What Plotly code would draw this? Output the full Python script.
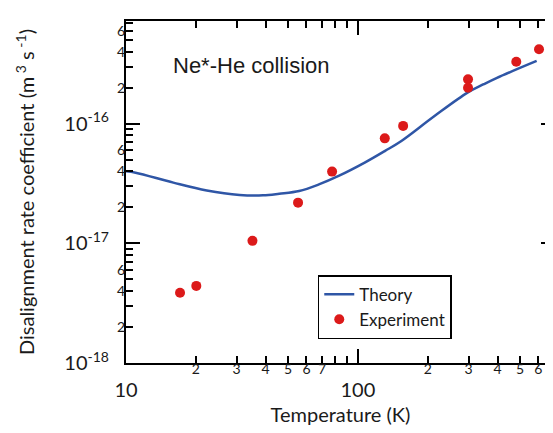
import plotly.graph_objects as go

# ---- data ----
theory_T = [10, 11, 16, 22.3, 30.9, 39, 45.8, 55.8, 67.9, 82.6, 107, 131, 154, 214, 297, 349, 398, 590]
theory_k = [4.0e-17, 3.9e-17, 3.22e-17, 2.77e-17, 2.54e-17, 2.52e-17, 2.60e-17, 2.74e-17, 3.11e-17,
            3.66e-17, 4.73e-17, 5.93e-17, 7.18e-17, 1.16e-16, 1.82e-16, 2.14e-16, 2.42e-16, 3.35e-16]

exp_T = [17.1, 20.1, 35.1, 55.2, 77.4, 130.6, 156.7, 298.5, 298.5, 482, 604]
exp_k = [3.87e-18, 4.41e-18, 1.05e-17, 2.19e-17, 3.98e-17, 7.55e-17, 9.6e-17, 2.35e-16, 2.0e-16, 3.3e-16, 4.19e-16]

x_major_vals = [10, 100]
x_major_text = ["10", "100"]
x_minor_vals = [20, 30, 40, 50, 60, 70, 80, 90, 200, 300, 400, 500, 600, 700]
x_minor_text = ["2", "3", "4", "5", "6", "7", "", "", "2", "3", "4", "5", "6", "7"]

y_major_vals = [1e-18, 1e-17, 1e-16]
y_major_text = ["10<sup>-18</sup>", "10<sup>-17</sup>", "10<sup>-16</sup>"]
y_minor_vals = [m * d for d in (1e-18, 1e-17, 1e-16) for m in range(2, 10) if m * d < 7.2e-16]
y_minor_text = [str(m) if m in (2, 4, 6) else "" for d in (1e-18, 1e-17, 1e-16)
                for m in range(2, 10) if m * d < 7.2e-16]

FONT = "Lato"
x_range = [1, 2.85]
y_range = [-18, -15.141]

fig = go.Figure()
fig.add_trace(go.Scatter(x=theory_T, y=theory_k, mode="lines", name="Theory",
                         line=dict(color="#2f56a6", width=2.5, shape="spline")))
fig.add_trace(go.Scatter(x=exp_T, y=exp_k, mode="markers", name="Experiment",
                         marker=dict(color="#dc1a1a", size=10)))
# invisible carrier so the overlaid minor-tick axes are drawn
fig.add_trace(go.Scatter(x=[exp_T[0]], y=[exp_k[0]], xaxis="x2", yaxis="y2", mode="markers",
                         marker=dict(opacity=0), showlegend=False, hoverinfo="skip"))

major_ticks = dict(ticks="inside", ticklen=14, tickwidth=2, tickcolor="black",
                   showline=True, linewidth=2, linecolor="black", mirror="ticks",
                   showgrid=False, zeroline=False)
minor_ticks = dict(ticks="inside", ticklen=7, tickwidth=2, tickcolor="black",
                   showline=False, mirror="ticks", showgrid=False, zeroline=False)

fig.update_layout(
    width=553, height=433,
    margin=dict(l=118, r=3, t=13, b=78),
    paper_bgcolor="white", plot_bgcolor="white",
    font=dict(family=FONT, color="#1a1a1a"),
    xaxis=dict(type="log", range=x_range, tickvals=x_major_vals, ticktext=x_major_text,
               tickfont=dict(size=20), ticklabelstandoff=8,
               title=dict(text="Temperature (K)", font=dict(size=20), standoff=8),
               **major_ticks),
    xaxis2=dict(type="log", range=x_range, overlaying="x", anchor="y", side="bottom",
                tickvals=x_minor_vals, ticktext=x_minor_text,
                tickfont=dict(size=14), ticklabelstandoff=-4, **minor_ticks),
    yaxis=dict(type="log", range=y_range, tickvals=y_major_vals, ticktext=y_major_text,
               tickfont=dict(size=20), ticklabelstandoff=11,
               title=dict(text="Disalignment rate coefficient (m<sup> 3</sup> s<sup> -1</sup>)",
                          font=dict(size=20), standoff=24),
               **major_ticks),
    yaxis2=dict(type="log", range=y_range, overlaying="y", anchor="x", side="left",
                tickvals=y_minor_vals, ticktext=y_minor_text,
                tickfont=dict(size=14), ticklabelstandoff=0, **minor_ticks),
    legend=dict(x=0.447, y=0.257, xanchor="left", yanchor="top",
                bordercolor="black", borderwidth=1.5, bgcolor="white",
                font=dict(size=17, family=FONT)),
    showlegend=True,
)

fig.add_annotation(text="Ne*-He collision", xref="paper", yref="paper",
                   x=0.106, y=0.869, xanchor="left", yanchor="middle", showarrow=False,
                   font=dict(family="Liberation Sans", size=22, color="#1a1a1a"))

fig.write_html("out.html")
